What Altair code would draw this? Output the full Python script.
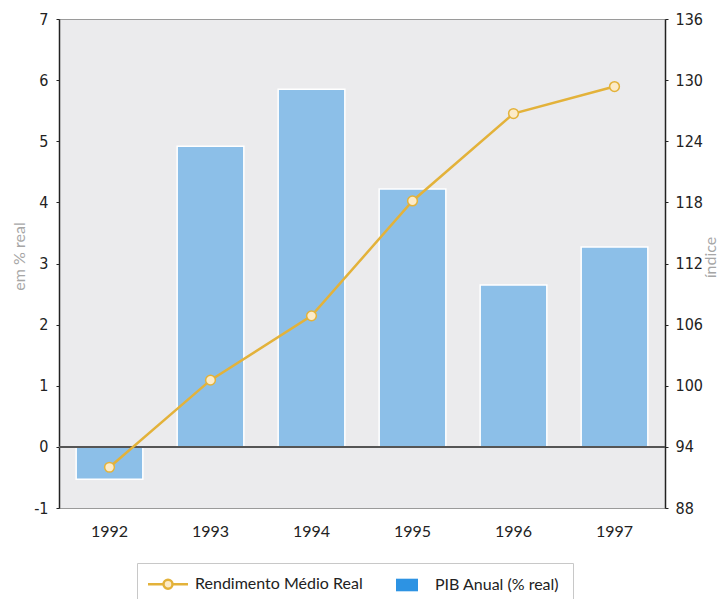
import altair as alt
import pandas as pd

# Annual series, 1992-1997
anos = ["1992", "1993", "1994", "1995", "1996", "1997"]
pib_anual = [-0.53, 4.92, 5.85, 4.22, 2.65, 3.27]          # % real (left axis)
rendimento_medio = [92.0, 100.55, 106.86, 118.14, 126.72, 129.37]  # index (right axis)

serie_pib = "PIB Anual (% real)"
serie_rend = "Rendimento Médio Real"
series = [serie_rend, serie_pib]

df_pib = pd.DataFrame({"ano": anos, "valor": pib_anual, "serie": serie_pib})
df_rend = pd.DataFrame({"ano": anos, "indice": rendimento_medio, "serie": serie_rend})

LINE = "#e3b23a"
POINT_FILL = "#fcebc8"
PIB_BLUE = "#2d93e3"      # legend swatch; bars draw it at half opacity
BAR_OPACITY = 0.5

TICK_FONT = "'Liberation Sans Narrow', 'DejaVu Sans Condensed', 'Roboto', sans-serif"
TEXT_FONT = "Lato"
PLOT_H = 489

x_enc = alt.X(
    "ano:N",
    sort=anos,
    scale=alt.Scale(paddingInner=0.34, paddingOuter=0.17),
    axis=alt.Axis(
        title=None, domain=False, ticks=False, labelAngle=0,
        labelFont=TEXT_FONT, labelFontSize=16, labelColor="#222222",
        labelPadding=15,
    ),
)

# fill and stroke share one domain, so both end up in a single legend
fill_scale = alt.Scale(domain=series, range=[POINT_FILL, PIB_BLUE])
stroke_scale = alt.Scale(domain=series, range=[LINE, PIB_BLUE])

is_pib = f"datum.value === '{serie_pib}'"
legend = alt.Legend(
    title=None,
    orient="none",
    direction="horizontal",
    legendX=78,
    legendY=544,
    padding=13,
    strokeColor="#c8c8c8",
    fillColor="#ffffff",
    symbolSize=400,
    symbolType={
        "expr": f"{is_pib} ? 'M-0.2,-0.63H2V0.63H-0.2Z' : "
                "'M-1,0H0.55M1.45,0H3M1.45,0A0.45,0.45,0,1,1,0.55,0A0.45,0.45,0,1,1,1.45,0'"
    },
    symbolStrokeWidth={"expr": f"{is_pib} ? 0 : 2.5"},
    symbolOpacity=1,
    labelFont=TEXT_FONT,
    labelFontSize=16,
    labelColor="#222222",
    labelLimit=400,
    labelOffset=29,
    columnPadding=27,
)

left_axis = alt.Axis(
    title="em % real", values=list(range(-1, 8)), labelExpr="'' + datum.value",
    grid=False,
    domainColor="#222222", domainWidth=1.5, tickColor="#222222", tickSize=3,
    labelFont=TICK_FONT, labelFontSize=16, labelColor="#222222", labelPadding=8,
    titleFont=TEXT_FONT, titleFontSize=16, titleFontWeight="normal",
    titleColor="#a6a6a6", titleAngle=270, titleBaseline="middle",
    titleX=-40, titleY=237,
)

bars = alt.Chart(df_pib).mark_bar(
    stroke="white", strokeWidth=1.5, fillOpacity=BAR_OPACITY, strokeOpacity=1
).encode(
    x=x_enc,
    y=alt.Y("valor:Q", scale=alt.Scale(domain=[-1, 7], nice=False), axis=left_axis),
    fill=alt.Fill("serie:N", scale=fill_scale, legend=legend),
)

zero_rule = alt.Chart(df_pib).mark_rule(color="#555555", strokeWidth=2).encode(
    y=alt.datum(0),
)

left = alt.layer(bars, zero_rule)

right_axis = alt.Axis(
    title="índice", orient="right", values=list(range(88, 137, 6)),
    labelExpr="'' + datum.value", grid=False,
    domainColor="#222222", domainWidth=1.5, tickColor="#222222", tickSize=3,
    labelFont=TICK_FONT, labelFontSize=16, labelColor="#222222", labelPadding=7,
    titleFont=TEXT_FONT, titleFontSize=16, titleFontWeight="normal",
    titleColor="#a6a6a6", titleAngle=270, titleBaseline="middle",
    titleX=45, titleY=238,
)

y_right = alt.Y("indice:Q", scale=alt.Scale(domain=[88, 136], nice=False), axis=right_axis)

line = alt.Chart(df_rend).mark_line(strokeWidth=2.5).encode(
    x=alt.X("ano:N", sort=anos),
    y=y_right,
    stroke=alt.Stroke("serie:N", scale=stroke_scale, legend=legend),
)

points = alt.Chart(df_rend).mark_point(
    filled=True, fill=POINT_FILL, stroke=LINE, strokeWidth=1.5, size=95, opacity=1,
).encode(
    x=alt.X("ano:N", sort=anos),
    y=y_right,
)

right = alt.layer(line, points)

chart = (
    alt.layer(left, right)
    .resolve_scale(y="independent")
    .properties(
        width=606,
        height=PLOT_H,
        autosize=alt.AutoSizeParams(type="none"),
        padding={"left": 59, "top": 19, "right": 55, "bottom": 91},
        background="white",
    )
    .configure_view(fill="#ebebed", stroke="#9a9a9a", strokeWidth=1)
)

chart.save("out.html", embed_options={"renderer": "svg", "actions": False})
